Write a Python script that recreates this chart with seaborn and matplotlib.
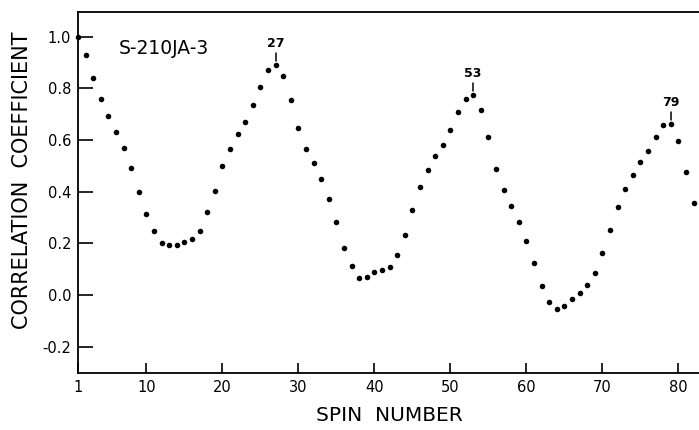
import matplotlib
matplotlib.use("Agg")
import matplotlib.pyplot as plt
import seaborn as sns
import pandas as pd
import numpy as np

spin = list(range(1, 83))
corr = [1.000, 0.929, 0.840, 0.760, 0.694, 0.630, 0.568, 0.493, 0.400, 0.315,
        0.246, 0.203, 0.193, 0.195, 0.206, 0.215, 0.249, 0.321, 0.404, 0.499,
        0.564, 0.624, 0.670, 0.735, 0.805, 0.871, 0.888, 0.848, 0.753, 0.647,
        0.564, 0.510, 0.450, 0.370, 0.281, 0.181, 0.114, 0.067, 0.071, 0.087,
        0.098, 0.110, 0.155, 0.231, 0.327, 0.418, 0.485, 0.538, 0.580, 0.637,
        0.708, 0.757, 0.773, 0.715, 0.612, 0.488, 0.406, 0.343, 0.282, 0.208,
        0.124, 0.036, -0.027, -0.054, -0.043, -0.016, 0.008, 0.039, 0.085, 0.163,
        0.252, 0.342, 0.409, 0.466, 0.514, 0.557, 0.610, 0.656, 0.660, 0.597,
        0.476, 0.355]
peaks = [27, 53, 79]
xticks = [1, 10, 20, 30, 40, 50, 60, 70, 80]
yticks = [-0.2, 0.0, 0.2, 0.4, 0.6, 0.8, 1.0]
ytick_labels = ["-0.2", "0.0", "0.2", "0.4", "0.6", "0.8", "1.0"]

df = pd.DataFrame({"spin": spin, "corr": corr})

sns.set_theme(style="white")
plt.rcParams["font.family"] = ["DejaVu Sans"]
plt.rcParams["text.color"] = "black"
plt.rcParams["axes.labelcolor"] = "black"
plt.rcParams["xtick.color"] = "black"
plt.rcParams["ytick.color"] = "black"

fig = plt.figure(figsize=(6.99, 4.30), dpi=100)
ax = fig.add_axes([78 / 699, 1 - 373 / 430, 1 - 78 / 699 + 0.002, (373 - 12) / 430])

sns.scatterplot(data=df, x="spin", y="corr", ax=ax, color="black", s=16,
                edgecolor="black", linewidth=0, zorder=3, clip_on=False)

ax.set_xlim(1, 82.9)
ax.set_ylim(-0.302, 1.095)

for side in ["left", "bottom", "top"]:
    ax.spines[side].set_visible(True)
    ax.spines[side].set_color("black")
    ax.spines[side].set_linewidth(1.3)
ax.spines["right"].set_visible(False)

ax.set_xticks(xticks)
ax.set_xticklabels([str(t) for t in xticks])
ax.set_yticks(yticks)
ax.set_yticklabels(ytick_labels)
ax.tick_params(axis="x", direction="in", length=7, width=1.2, colors="black",
               labelsize=10.5, pad=5, bottom=True)
ax.tick_params(axis="y", direction="in", length=11, width=1.2, colors="black",
               labelsize=10.5, pad=5, left=True)

ax.set_xlabel("SPIN  NUMBER", fontsize=14.5, labelpad=8, color="black")
ax.set_ylabel("CORRELATION  COEFFICIENT", fontsize=15, color="black")
ax.yaxis.set_label_coords(-0.074, 0.535)

ax.text(6.3, 0.955, "S-210JA-3", fontsize=13.5, ha="left", va="center",
        color="black")

for p in peaks:
    v = corr[p - 1]
    ax.plot([p, p], [v + 0.018, v + 0.048], color="black", lw=1.1)
    ax.text(p, v + 0.085, str(p), ha="center", va="center", fontsize=9,
            fontweight="bold", color="black")

ax.grid(False)
fig.savefig("out.png", dpi=100)
